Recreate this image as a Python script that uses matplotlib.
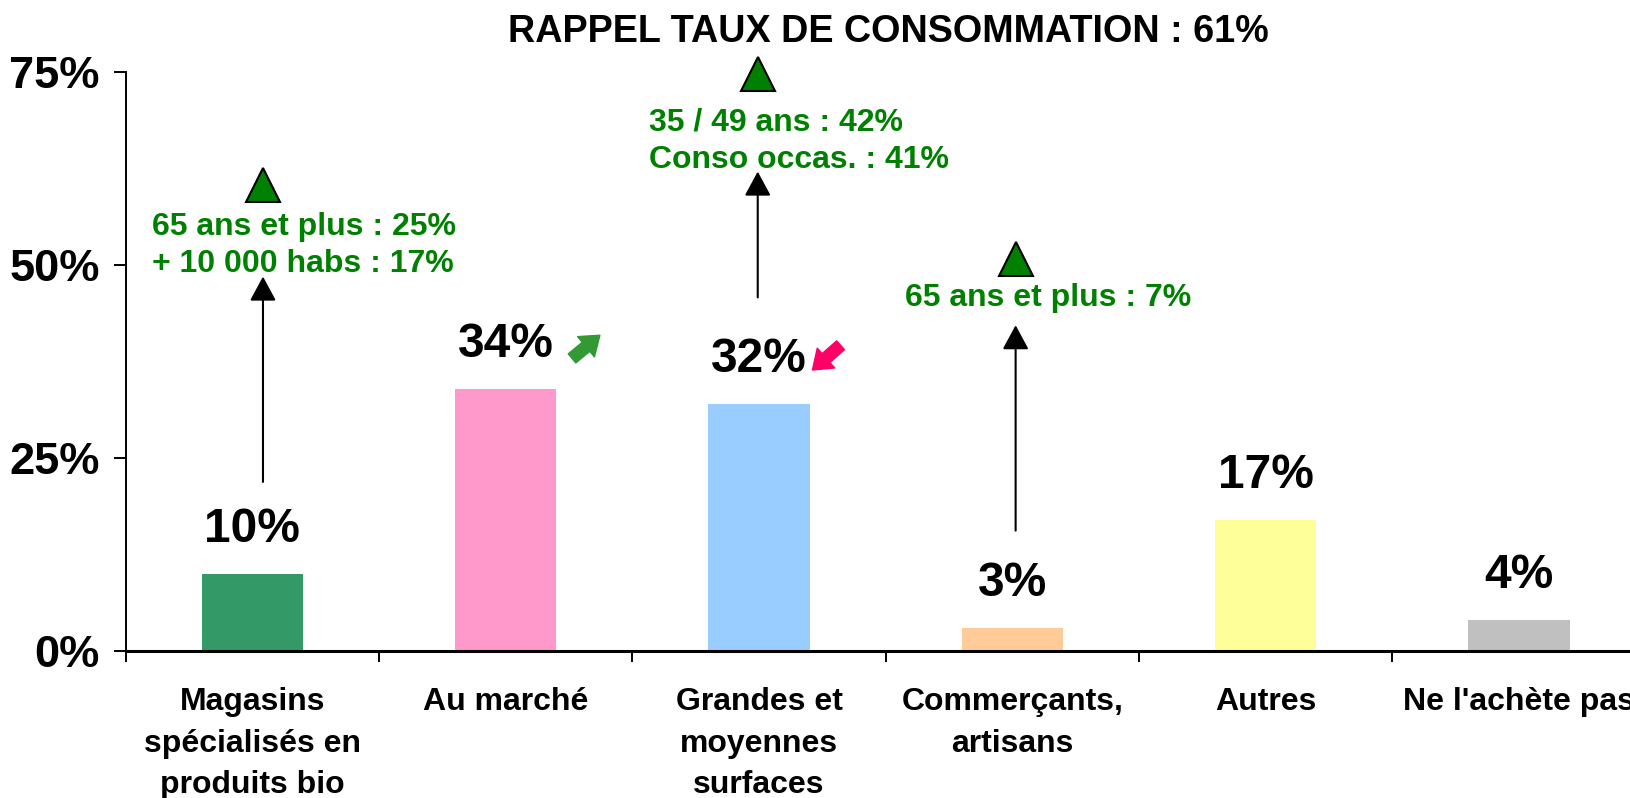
import matplotlib
matplotlib.use('Agg')
import matplotlib.pyplot as plt
import numpy as np

plt.rcParams['font.family'] = ['Liberation Sans', 'DejaVu Sans']
plt.rcParams['font.weight'] = 'bold'

# données
categories = ['Magasins\nspécialisés en\nproduits bio', 'Au marché',
              'Grandes et\nmoyennes\nsurfaces', 'Commerçants,\nartisans',
              'Autres', "Ne l'achète pas"]
valeurs = [10, 34, 32, 3, 17, 4]
couleurs = ['#339966', '#FF99CC', '#99CCFF', '#FFCC99', '#FFFF99', '#C0C0C0']
yticks = [0, 25, 50, 75]
ytick_labels = ['0%', '25%', '50%', '75%']
titre = 'RAPPEL TAUX DE CONSOMMATION : 61%'

# encadrés verts : (index barre, texte)
notes = [(0, '65 ans et plus : 25%\n+ 10 000 habs : 17%'),
         (2, '35 / 49 ans : 42%\nConso occas. : 41%'),
         (3, '65 ans et plus : 7%')]

fig = plt.figure(figsize=(16.3, 7.98), dpi=100)
ax = fig.add_axes([0.0771, 0.1842, 0.9325, 0.7256])

x = np.arange(len(categories))
ax.bar(x, valeurs, width=0.4, color=couleurs, zorder=2)

ax.set_xlim(-0.5, len(categories) - 0.5)
ax.set_ylim(0, 75)

# axes
for s in ['top', 'right']:
    ax.spines[s].set_visible(False)
ax.spines['left'].set_linewidth(1.4)
ax.spines['bottom'].set_linewidth(2.2)

ax.set_yticks(yticks)
ax.set_yticklabels(ytick_labels, fontsize=32.5, fontweight='bold')
ax.tick_params(axis='y', length=8.5, width=1.4, pad=10)

ax.set_xticks(np.arange(len(categories) + 1) - 0.5, minor=True)
ax.set_xticks(x)
ax.set_xticklabels(categories, fontsize=23, fontweight='bold', linespacing=1.5)
ax.tick_params(axis='x', which='major', length=0, pad=26)
ax.tick_params(axis='x', which='minor', length=8, width=1.4)

# étiquettes de valeur
for i, v in enumerate(valeurs):
    ax.text(i, v + 4.1, f'{v}%', ha='center', va='baseline',
            fontsize=34.5, fontweight='bold')

# petites flèches d'évolution
style_fl = 'simple,head_width=1.9,head_length=1.3,tail_width=0.85'
ax.annotate('', xy=(1.372, 40.9), xytext=(1.262, 37.9),
            arrowprops=dict(arrowstyle=style_fl, mutation_scale=10,
                            color='#339933', shrinkA=0, shrinkB=0))
ax.annotate('', xy=(2.211, 36.4), xytext=(2.322, 39.6),
            arrowprops=dict(arrowstyle=style_fl, mutation_scale=10,
                            color='#FF0066', shrinkA=0, shrinkB=0))

# flèches noires + triangles + textes verts (y du texte = ligne de base de la dernière ligne)
fleches = {0: (0.042, 21.9, 48.5, 60.3, -0.398, 49.1),
           2: (1.995, 45.8, 62.1, 74.8, 1.565, 62.6),
           3: (3.013, 15.6, 42.2, 50.8, 2.575, 44.7)}
for i, txt in notes:
    fx, y0, y1, ytri, tx, ty = fleches[i]
    ax.annotate('', xy=(fx, y1), xytext=(fx, y0),
                arrowprops=dict(arrowstyle='-|>,head_length=0.5,head_width=0.27',
                                mutation_scale=30, color='black', lw=1.5,
                                shrinkA=0, shrinkB=0))
    ax.plot(fx, ytri, marker='^', markersize=25, markerfacecolor='#008000',
            markeredgecolor='black', markeredgewidth=1.5, clip_on=False)
    ax.text(tx, ty, txt, ha='left', va='baseline', fontsize=23,
            fontweight='bold', color='#008000', linespacing=1.3)

fig.text(0.545, 0.9478, titre, ha='center', va='baseline', fontsize=27.2,
         fontweight='bold')

fig.savefig('out.png', dpi=100)
